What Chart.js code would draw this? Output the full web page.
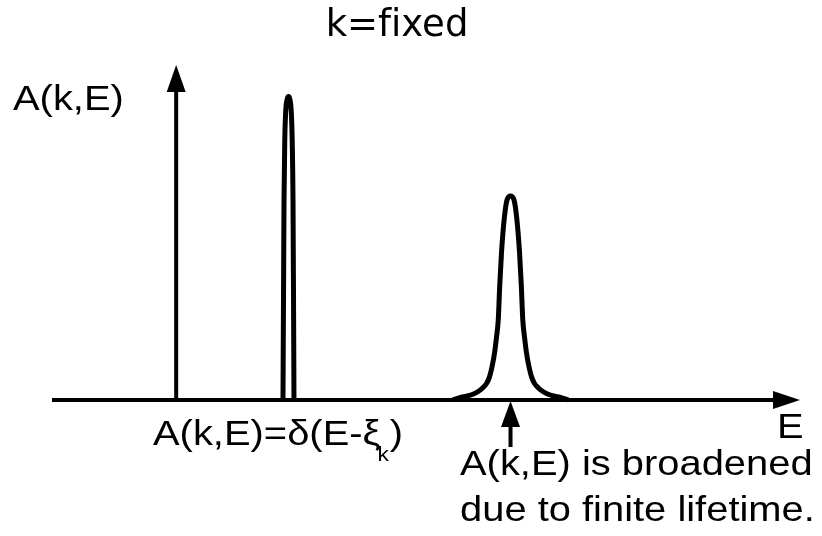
<!DOCTYPE html>
<html lang="en">
<head>
<meta charset="utf-8">
<style>
    body { margin: 0; background: #fff; }
</style>
</head>
<body>
<canvas id="myChart" width="822" height="536"></canvas>

<script src="https://cdn.jsdelivr.net/npm/chart.js"></script>
<script>
    // energy axis runs 0..100, spectral weight 0..100 (arbitrary units)
    const deltaE = [30.88, 30.95, 31.02, 31.12, 31.24, 31.42, 31.62, 31.82, 31.99, 32.11, 32.22, 32.29, 32.35];
    const deltaA = [0, 29.9, 59.7, 77.6, 86.0, 89.6, 90.6, 89.6, 86.0, 77.6, 59.7, 29.9, 0];

    const broadE = [53.55, 54.62, 55.55, 56.35, 57.02, 57.56, 58.09, 58.49, 58.83, 59.16, 59.43, 59.66,
                    59.86, 60.10, 60.47, 60.83, 61.30,
                    61.77, 62.13, 62.50, 62.74, 62.94, 63.17, 63.44, 63.77, 64.11, 64.51, 65.04,
                    65.58, 66.25, 67.05, 67.98, 69.05];
    const broadA = [0, 0.8, 1.2, 1.8, 2.6, 3.6, 4.9, 6.9, 9.9, 14.0, 18.8, 23.9,
                    34.3, 44.2, 54.3, 59.7, 60.9,
                    59.7, 54.3, 44.2, 34.3, 23.9, 18.8, 14.0, 9.9, 6.9, 4.9, 3.6,
                    2.6, 1.8, 1.2, 0.8, 0];

    const yAxisAt = 16.6;   // E where the A axis stands
    const xAxisEnd = 100;
    const yAxisEnd = 100;
    const peakMark = 61.3;  // arrow under the broadened peak

    const title = 'k=f\u200Cixed';
    const yLabel = 'A(k,E)';
    const xLabel = 'E';
    const deltaLabel = 'A(k,E)=δ(E-ξ';
    const deltaSub = 'k';
    const noteLines = ['A(k,E) is broadened', 'due to finite lifetime.'];

    function toPoints(xs, ys) {
        return xs.map(function (x, i) { return {x: x, y: ys[i]}; });
    }

    const SANS = '"Liberation Sans", Arial, sans-serif';
    const STRETCH = 1.14;

    function stretchText(ctx, text, x, y, size) {
        ctx.save();
        ctx.font = size + 'px ' + SANS;
        ctx.translate(x, y);
        ctx.scale(STRETCH, 1);
        ctx.fillText(text, 0, 0);
        var w = ctx.measureText(text).width * STRETCH;
        ctx.restore();
        return w;
    }

    const diagram = {
        id: 'diagram',
        beforeDatasetsDraw: function (chart) {
            var ctx = chart.ctx;
            var xs = chart.scales.x, ys = chart.scales.y;
            var x0 = xs.getPixelForValue(0), xEnd = xs.getPixelForValue(xAxisEnd);
            var yBase = ys.getPixelForValue(0), yTop = ys.getPixelForValue(yAxisEnd);
            var yAx = xs.getPixelForValue(yAxisAt);

            ctx.save();
            ctx.strokeStyle = '#000';
            ctx.fillStyle = '#000';
            ctx.lineWidth = 4;

            // E axis
            ctx.beginPath();
            ctx.moveTo(x0, yBase);
            ctx.lineTo(xEnd - 20, yBase);
            ctx.stroke();
            ctx.beginPath();
            ctx.moveTo(xEnd, yBase);
            ctx.lineTo(xEnd - 27, yBase - 9);
            ctx.lineTo(xEnd - 27, yBase + 9);
            ctx.closePath();
            ctx.fill();

            // A axis
            ctx.beginPath();
            ctx.moveTo(yAx, yBase + 2);
            ctx.lineTo(yAx, yTop + 20);
            ctx.stroke();
            ctx.beginPath();
            ctx.moveTo(yAx, yTop);
            ctx.lineTo(yAx - 9.5, yTop + 27);
            ctx.lineTo(yAx + 9.5, yTop + 27);
            ctx.closePath();
            ctx.fill();
            ctx.restore();
        },
        afterDraw: function (chart) {
            var ctx = chart.ctx;
            var xs = chart.scales.x, ys = chart.scales.y;
            var yBase = ys.getPixelForValue(0);
            var px = xs.getPixelForValue(peakMark);

            ctx.save();
            ctx.fillStyle = '#000';
            ctx.strokeStyle = '#000';

            // arrow pointing at the broadened peak
            ctx.lineWidth = 4;
            ctx.beginPath();
            ctx.moveTo(px, yBase + 47);
            ctx.lineTo(px, yBase + 20);
            ctx.stroke();
            ctx.beginPath();
            ctx.moveTo(px, yBase + 1);
            ctx.lineTo(px - 9.5, yBase + 27);
            ctx.lineTo(px + 9.5, yBase + 27);
            ctx.closePath();
            ctx.fill();

            ctx.textBaseline = 'alphabetic';
            ctx.font = '37px "DejaVu Sans", sans-serif';
            ctx.textAlign = 'center';
            ctx.fillText(title, 397, 36);
            ctx.textAlign = 'left';

            stretchText(ctx, yLabel, 13, 110, 35);
            stretchText(ctx, xLabel, 777, 438, 35);

            var w = stretchText(ctx, deltaLabel, 153, 445, 35);
            var w2 = stretchText(ctx, deltaSub, 153 + w - 3, 461, 20);
            stretchText(ctx, ')', 153 + w + w2 - 2, 445, 35);

            stretchText(ctx, noteLines[0], 460, 475, 35);
            stretchText(ctx, noteLines[1], 460, 521, 35);
            ctx.restore();
        }
    };

    var myChart = new Chart(document.getElementById('myChart'), {
        type: 'line',
        data: {
            datasets: [{
                data: toPoints(deltaE, deltaA),
                borderColor: '#000',
                borderWidth: 5,
                pointRadius: 0,
                cubicInterpolationMode: 'monotone',
                fill: false,
                clip: false
            }, {
                data: toPoints(broadE, broadA),
                borderColor: '#000',
                borderWidth: 5,
                pointRadius: 0,
                cubicInterpolationMode: 'monotone',
                fill: false,
                clip: false
            }]
        },
        options: {
            responsive: false,
            animation: false,
            devicePixelRatio: 1,
            layout: {
                padding: {left: 52, right: 22, top: 65, bottom: 136}
            },
            plugins: {
                legend: {display: false},
                tooltip: {enabled: false},
                title: {display: false}
            },
            scales: {
                x: {type: 'linear', min: 0, max: 100, display: false},
                y: {type: 'linear', min: 0, max: 100, display: false}
            }
        },
        plugins: [diagram]
    });
</script>
</body>
</html>
